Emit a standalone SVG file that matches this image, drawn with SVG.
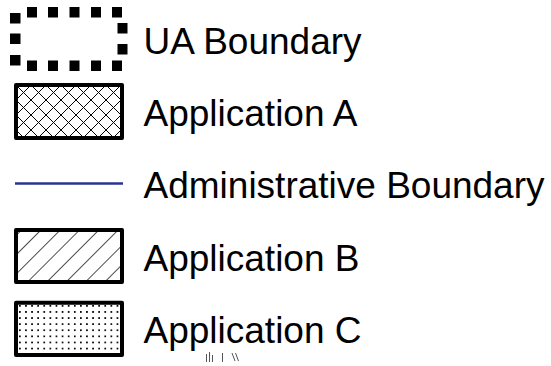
<svg xmlns="http://www.w3.org/2000/svg" width="551" height="366" viewBox="0 0 551 366">
  <style>
    .lbl { font-family: "Liberation Sans", Arial, sans-serif; font-size: 37px; fill: #000; }
    .box { stroke: #000; stroke-width: 4; stroke-linejoin: round; }
    .sq { fill: #000; }
  </style>
  <defs>
    <pattern id="cross" patternUnits="userSpaceOnUse" width="15" height="15" x="16" y="85">
      <path d="M0,0 L15,15 M15,0 L0,15" stroke="#000" stroke-width="1"/>
    </pattern>
    <pattern id="hatch" patternUnits="userSpaceOnUse" width="13.65" height="13.65" patternTransform="rotate(45)">
      <line x1="0" y1="0" x2="0" y2="13.65" stroke="#000" stroke-width="1.4"/>
    </pattern>
    <pattern id="dots" patternUnits="userSpaceOnUse" width="6.1" height="6.1" x="19" y="305">
      <rect x="0" y="0" width="1.7" height="1.7" fill="#000"/>
    </pattern>
  </defs>
  <rect width="551" height="366" fill="#fff"/>

  <g id="ua-boundary">
    <rect class="sq" x="27" y="7" width="10" height="10.5"/>
    <rect class="sq" x="48" y="7" width="10" height="10.5"/>
    <rect class="sq" x="69.5" y="7" width="10" height="10.5"/>
    <rect class="sq" x="91" y="7" width="10" height="10.5"/>
    <rect class="sq" x="112" y="7" width="10" height="10.5"/>
    <rect class="sq" x="10" y="13" width="10.5" height="10.5"/>
    <rect class="sq" x="10" y="33.5" width="10.5" height="10.5"/>
    <rect class="sq" x="10" y="55" width="10.5" height="10.5"/>
    <rect class="sq" x="27" y="60.5" width="10" height="10.5"/>
    <rect class="sq" x="48" y="60.5" width="10" height="10.5"/>
    <rect class="sq" x="69.5" y="60.5" width="10" height="10.5"/>
    <rect class="sq" x="91" y="60.5" width="10" height="10.5"/>
    <rect class="sq" x="112" y="60.5" width="10" height="10.5"/>
    <rect class="sq" x="117.5" y="23" width="10" height="10.5"/>
    <rect class="sq" x="117.5" y="44" width="10" height="10.5"/>
    <text class="lbl" x="143.5" y="53.5">UA Boundary</text>
  </g>

  <g id="application-a">
    <rect class="box" x="16" y="85" width="106" height="53" fill="url(#cross)"/>
    <text class="lbl" x="143.5" y="126">Application A</text>
  </g>

  <g id="administrative-boundary">
    <line x1="15" y1="183.5" x2="123" y2="183.5" stroke="#2b3390" stroke-width="2.5"/>
    <text class="lbl" x="143.5" y="198">Administrative Boundary</text>
  </g>

  <g id="application-b">
    <rect class="box" x="16" y="230" width="106" height="52" fill="url(#hatch)"/>
    <text class="lbl" x="143.5" y="270.5">Application B</text>
  </g>

  <g id="application-c">
    <rect class="box" x="16" y="302.7" width="106" height="52.3" fill="url(#dots)"/>
    <text class="lbl" x="143.5" y="343">Application C</text>
  </g>

  <g id="fragments" stroke="#555" stroke-width="1">
    <path d="M206.5,354 V362 M209.5,352 V362 M212.5,355 V362 M222.5,353 V362 M232,353 L235,361 M235.5,353 L238.5,361"/>
  </g>
</svg>
